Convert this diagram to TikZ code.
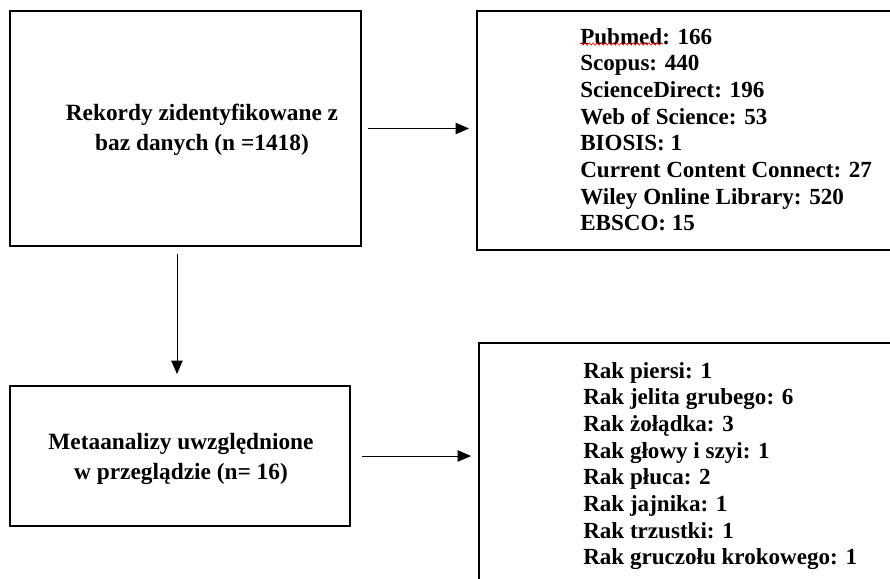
\documentclass[tikz,border=0pt]{standalone}
\usepackage{fontspec}
\setmainfont{Liberation Serif}
\usepackage{tikz}
\usetikzlibrary{arrows.meta,positioning,calc,decorations.pathmorphing}

\begin{document}
\begin{tikzpicture}[x=0.75pt, y=-0.75pt,
  box/.style={draw, line width=1.5pt, inner sep=0pt},
  txt/.style={font=\fontsize{17.5}{22.5}\selectfont\bfseries, align=center, inner sep=0pt},
  lst/.style={font=\fontsize{17.3}{20}\selectfont\bfseries, align=left, anchor=north west, inner sep=0pt},
  arr/.style={-{Triangle[length=10pt,width=8.5pt]}, line width=0.75pt}
]
  \useasboundingbox (0,0) rectangle (890,579);
  % boxes
  \node[box, minimum width=351*0.75pt, minimum height=235*0.75pt] (rek) at (185.5,128.5) {};
  \node[box, minimum width=415*0.75pt, minimum height=239*0.75pt] (baz) at (684.5,130.5) {};
  \node[box, minimum width=340*0.75pt, minimum height=140*0.75pt] (meta) at (180,456) {};
  \node[box, minimum width=413*0.75pt, minimum height=247*0.75pt] (rak) at (685.5,466.5) {};
  % texts
  \node[txt] (rekT) at (202,130) {Rekordy zidentyfikowane z\\baz danych (n =1418)};
  \node[txt] (metaT) at (181,459) {Metaanalizy uwzględnione\\w przeglądzie (n= 16)};
  \node[lst] (bazT) at (580,28) {Pubmed: 166\\Scopus: 440\\ScienceDirect: 196\\Web of Science: 53\\BIOSIS: 1\\Current Content Connect: 27\\Wiley Online Library: 520\\EBSCO: 15};
  \node[lst] (rakT) at (583,362) {Rak piersi: 1\\Rak jelita grubego: 6\\Rak żołądka: 3\\Rak głowy i szyi: 1\\Rak płuca: 2\\Rak jajnika: 1\\Rak trzustki: 1\\Rak gruczołu krokowego: 1};
  % spell-check squiggle
  \draw[red, line width=0.5pt, decorate, decoration={snake, amplitude=0.8pt, segment length=3pt}]
    ($(bazT.north west)+(0,16)$) -- ($(bazT.north west)+(83,16)$);
  % arrows
  \draw[arr, shorten <=6*0.75pt, shorten >=7*0.75pt] (rek.east) -- (rek.east -| baz.west);
  \draw[arr, shorten <=7*0.75pt, shorten >=11*0.75pt] ([xshift=-3*0.75pt]rek.south -| meta.north) -- ([xshift=-3*0.75pt]meta.north);
  \draw[arr, shorten <=11*0.75pt, shorten >=7*0.75pt] (meta.east) -- (meta.east -| rak.west);
\end{tikzpicture}
\end{document}
